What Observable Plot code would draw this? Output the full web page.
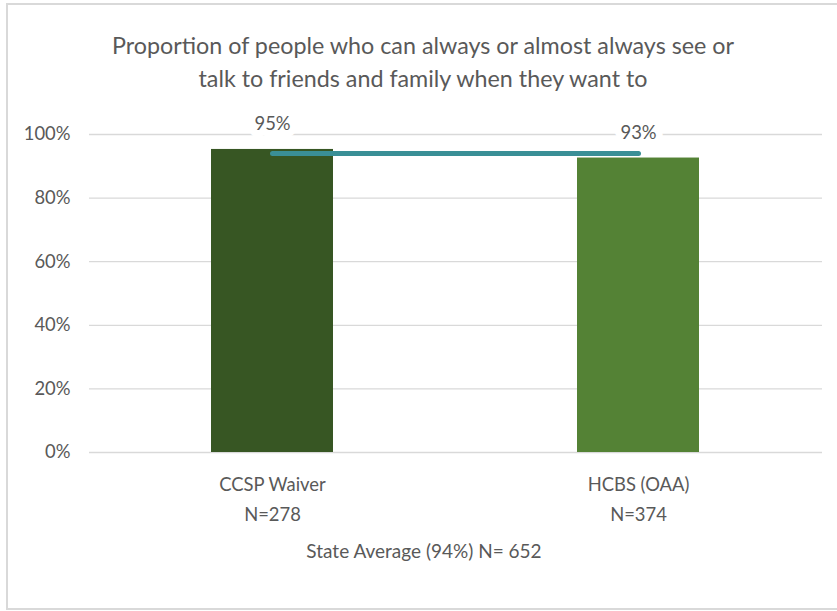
<!DOCTYPE html>
<html>
<head>
<meta charset="utf-8">
<script src="https://cdn.jsdelivr.net/npm/d3@7"></script>
<script src="https://cdn.jsdelivr.net/npm/@observablehq/plot@0.6"></script>
<style>
  html, body { margin: 0; padding: 0; background: #fff; }
  #wrap { position: relative; width: 837px; height: 611px; overflow: hidden; background: #fff;
          font-family: Lato, "Open Sans", sans-serif; color: #595959; }
  #frame { position: absolute; left: 6px; top: 3px; width: 834px; height: 603px; border: 2px solid #d9d9d9; }
  #title { position: absolute; left: 6px; width: 834px; top: 29px; text-align: center; font-size: 23.3px; line-height: 33px; }
  #chart { position: absolute; left: 0; top: 100px; }
  #caption { position: absolute; left: 6px; width: 836px; top: 539px; text-align: center; font-size: 19px; line-height: 24px; }
</style>
</head>
<body>
<div id="wrap">
  <div id="frame"></div>
  <div id="title"></div>
  <div id="chart"></div>
  <div id="caption"></div>
</div>
<script>
// ---- data ----
const titleLines = ["Proportion of people who can always or almost always see or", "talk to friends and family when they want to"];
const categories = ["CCSP Waiver", "HCBS (OAA)"];
const nLabels = ["N=278", "N=374"];
const values = [0.953, 0.926];
const stateAverage = 0.94;
const yTicks = [0, 0.2, 0.4, 0.6, 0.8, 1.0];
const captionText = "State Average (94%) N= 652";
const barColors = ["#375623", "#548235"];
const avgColor = "#3a8f96";

document.getElementById("title").innerHTML = titleLines.join("<br>");
document.getElementById("caption").textContent = captionText;

const rows = categories.map((c, i) => ({cat: c, n: nLabels[i], value: values[i]}));
const pct = d3.format(".0%");
const textColor = "#595959";
const font = 'Lato, "Open Sans", sans-serif';

const chart = Plot.plot({
  width: 837,
  height: 440,
  marginLeft: 89,
  marginRight: 15,
  marginTop: 34,
  marginBottom: 88,
  style: {fontFamily: font, color: textColor, background: "transparent"},
  x: {domain: categories, paddingInner: 2/3, paddingOuter: 1/3, axis: null},
  y: {domain: [0, 1]},
  color: {domain: categories, range: barColors},
  marks: [
    Plot.gridY(yTicks, {stroke: "#d9d9d9", strokeOpacity: 1, strokeWidth: 1.3}),
    Plot.axisY(yTicks, {tickFormat: pct, tickSize: 0, tickPadding: 19, fontSize: 18.4, fill: textColor, label: null}),
    Plot.barY(rows, {x: "cat", y: "value", fill: "cat"}),
    Plot.lineY(rows, {x: "cat", y: () => stateAverage, stroke: avgColor, strokeWidth: 5, strokeLinecap: "round"}),
    Plot.text(rows, {x: "cat", y: "value", text: d => pct(d.value), dy: -25, fontSize: 18.4, fill: textColor,
                     stroke: "white", strokeWidth: 14, lineAnchor: "middle"}),
    Plot.text(rows, {x: "cat", text: "cat", frameAnchor: "bottom", dy: 33, fontSize: 18.4, fill: textColor, lineAnchor: "middle"}),
    Plot.text(rows, {x: "cat", text: "n", frameAnchor: "bottom", dy: 63, fontSize: 18.4, fill: textColor, lineAnchor: "middle"})
  ]
});
document.getElementById("chart").appendChild(chart);
</script>
</body>
</html>
